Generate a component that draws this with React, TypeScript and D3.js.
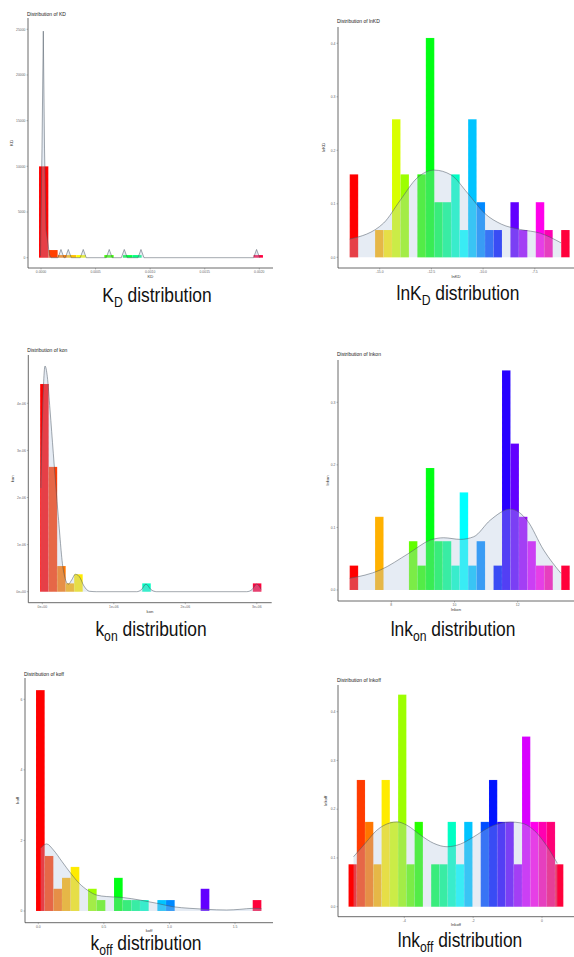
import React from "react";
import * as d3 from "d3";

// ---------- values ----------

// K_D
const kdBinStart = -0.0000183;
const kdBinWidth = 0.0000855;
const kdBins = [10000, 840, 290, 290, 290, 0, 0, 290, 0, 290, 290, 0, 0, 0, 0, 0, 0, 0, 0, 0, 0, 0, 0, 290];
const kdDensX = [
  -0.0000046, 0.0000092, 0.0000211, 0.0000321, 0.0000458, 0.0000641, 0.0000778, 0.0000916,
  0.0001555, 0.000183, 0.0002105, 0.0002225, 0.00025, 0.0002775,
  0.0003595, 0.000387, 0.0004145, 0.0005975, 0.000625, 0.0006525,
  0.0007355, 0.000763, 0.0007905, 0.0008885, 0.000916, 0.0009435,
  0.0019475, 0.001975, 0.002003,
];
const kdDensY = [
  200, 12000, 24800, 12000, 3000, 1500, 300, 0,
  0, 900, 0, 0, 900, 0,
  0, 900, 0, 0, 900, 0,
  0, 900, 0, 0, 900, 0,
  0, 900, 0,
];
const kdXTicks = [0, 0.0005, 0.001, 0.0015, 0.002];
const kdXLabels = ["0.0000", "0.0005", "0.0010", "0.0015", "0.0020"];
const kdYTicks = [0, 5000, 10000, 15000, 20000, 25000];
const kdYLabels = ["0", "5000", "10000", "15000", "20000", "25000"];

// ln K_D
const lnkdBinStart = -16.45;
const lnkdBinWidth = 0.409;
const lnkdBins = [
  0.155, 0, 0, 0.051, 0.051, 0.258, 0.155, 0, 0.155, 0.41, 0.103, 0.103, 0.155,
  0.051, 0.258, 0.103, 0.051, 0.051, 0, 0.103, 0.051, 0, 0.103, 0.051, 0, 0.051,
];
const lnkdDensX = [-16.45, -14.81, -14.0, -13.2, -12.36, -11.55, -10.75, -9.92, -9.12, -8.2, -7.23, -6.23];
const lnkdDensY = [0.034, 0.064, 0.107, 0.148, 0.163, 0.154, 0.12, 0.082, 0.062, 0.052, 0.045, 0.027];
const lnkdXTicks = [-15, -12.5, -10, -7.5];
const lnkdXLabels = ["-15.0", "-12.5", "-10.0", "-7.5"];
const lnkdYTicks = [0, 0.1, 0.2, 0.3, 0.4];
const lnkdYLabels = ["0.0", "0.1", "0.2", "0.3", "0.4"];

// k_on (x in units of 1e6, y in units of 1e-6)
const konBinStart = -0.03;
const konBinWidth = 0.119;
const konBins = [4.41, 2.65, 0.545, 0.177, 0.37, 0, 0, 0, 0, 0, 0, 0, 0.177, 0, 0, 0, 0, 0, 0, 0, 0, 0, 0, 0, 0, 0.177];
const konDensX = [
  -0.02, 0.005, 0.038, 0.07, 0.108, 0.154, 0.224, 0.294, 0.364, 0.411, 0.462, 0.518, 0.583, 0.658, 0.76,
  1.32, 1.39, 1.45, 1.516, 1.6, 2.858, 2.937, 2.998, 3.059,
];
const konDensY = [
  2.2, 3.86, 4.79, 4.57, 3.86, 2.94, 1.59, 0.46, 0.16, 0.25, 0.37, 0.32, 0.12, 0.01, 0,
  0, 0.05, 0.16, 0.05, 0, 0, 0.05, 0.16, 0.05,
];
const konXTicks = [0, 1, 2, 3];
const konXLabels = ["0e+00", "1e+06", "2e+06", "3e+06"];
const konYTicks = [0, 1, 2, 3, 4];
const konYLabels = ["0e+00", "1e-06", "2e-06", "3e-06", "4e-06"];

// ln k_on
const lnkonBinStart = 6.683;
const lnkonBinWidth = 0.2678;
const lnkonBins = [
  0.039, 0, 0, 0.117, 0, 0, 0, 0.078, 0.039, 0.195, 0.078, 0.078, 0.039,
  0.156, 0.039, 0.078, 0, 0.039, 0.351, 0.234, 0.117, 0.078, 0.039, 0.039, 0, 0.039,
];
const lnkonDensX = [6.683, 7.653, 8.55, 9.235, 9.657, 10.184, 10.607, 11.134, 11.767, 12.294, 12.822, 13.37];
const lnkonDensY = [0.0186, 0.032, 0.0585, 0.0798, 0.0835, 0.0809, 0.0851, 0.1117, 0.1293, 0.1117, 0.0638, 0.0266];
const lnkonXTicks = [8, 10, 12];
const lnkonXLabels = ["8", "10", "12"];
const lnkonYTicks = [0, 0.1, 0.2, 0.3];
const lnkonYLabels = ["0.0", "0.1", "0.2", "0.3"];

// k_off
const koffBinStart = -0.0175;
const koffBinWidth = 0.0661;
const koffBins = [
  6.26, 1.56, 0.63, 0.94, 1.25, 0, 0.63, 0.31, 0, 0.94, 0.31, 0.31, 0.31,
  0, 0.31, 0.31, 0, 0, 0, 0.63, 0, 0, 0, 0, 0, 0.31,
];
const koffDensX = [
  0.018, 0.064, 0.115, 0.181, 0.247, 0.313, 0.379, 0.445, 0.521, 0.648, 0.775, 0.902, 1.029,
  1.156, 1.283, 1.436, 1.537, 1.639, 1.702,
];
const koffDensY = [
  1.78, 1.9, 1.73, 1.4, 1.07, 0.78, 0.58, 0.45, 0.41, 0.38, 0.31, 0.22, 0.12,
  0.076, 0.047, 0.028, 0.047, 0.076, 0.066,
];
const koffXTicks = [0, 0.5, 1, 1.5];
const koffXLabels = ["0.0", "0.5", "1.0", "1.5"];
const koffYTicks = [0, 2, 4, 6];
const koffYLabels = ["0", "2", "4", "6"];

// ln k_off
const lnkoffBinStart = -5.62;
const lnkoffBinWidth = 0.24;
const lnkoffBins = [
  0.087, 0.26, 0.174, 0.087, 0.26, 0.174, 0.435, 0.087, 0.174, 0, 0.087, 0.087, 0.174,
  0.087, 0.174, 0, 0.174, 0.26, 0.174, 0.174, 0.087, 0.349, 0.174, 0.174, 0.174, 0.087,
];
const lnkoffDensX = [
  -5.474, -5.134, -4.795, -4.407, -4.213, -3.921, -3.533, -3.145, -2.757, -2.369, -1.98,
  -1.592, -1.204, -0.913, -0.622, -0.234, 0.154, 0.445,
];
const lnkoffDensY = [
  0.1025, 0.13, 0.157, 0.172, 0.174, 0.167, 0.147, 0.13, 0.123, 0.1285, 0.1435,
  0.1606, 0.171, 0.1736, 0.172, 0.157, 0.123, 0.089,
];
const lnkoffXTicks = [-4, -2, 0];
const lnkoffXLabels = ["-4", "-2", "0"];
const lnkoffYTicks = [0, 0.1, 0.2, 0.3, 0.4];
const lnkoffYLabels = ["0.0", "0.1", "0.2", "0.3", "0.4"];

// ---------- panel layout ----------

const panels = [
  {
    name: "KD", pre: "", main: "K", sub: "D",
    binStart: kdBinStart, binWidth: kdBinWidth, bins: kdBins, densX: kdDensX, densY: kdDensY,
    xTicks: kdXTicks, xLabels: kdXLabels, yTicks: kdYTicks, yLabels: kdYLabels,
    xDomain: [0, 0.002], xRange: [41, 259.3], yDomain: [0, 25000], yRange: [257.7, 29.3],
    axisX: 28, axisTop: 18, axisY: 268, axisRight: 273, titleY: 16,
    xLabY: 278, yLabX: 13, capX: 157, capY: 302, smooth: false,
  },
  {
    name: "lnKD", pre: "ln", main: "K", sub: "D",
    binStart: lnkdBinStart, binWidth: lnkdBinWidth, bins: lnkdBins, densX: lnkdDensX, densY: lnkdDensY,
    xTicks: lnkdXTicks, xLabels: lnkdXLabels, yTicks: lnkdYTicks, yLabels: lnkdYLabels,
    xDomain: [-15, -7.5], xRange: [379.7, 534.8], yDomain: [0, 0.4], yRange: [257.3, 43.3],
    axisX: 338, axisTop: 27, axisY: 268, axisRight: 574, titleY: 23,
    xLabY: 278, yLabX: 325, capX: 458, capY: 300, smooth: true,
  },
  {
    name: "kon", pre: "", main: "k", sub: "on",
    binStart: konBinStart, binWidth: konBinWidth, bins: konBins, densX: konDensX, densY: konDensY,
    xTicks: konXTicks, xLabels: konXLabels, yTicks: konYTicks, yLabels: konYLabels,
    xDomain: [0, 3], xRange: [42.3, 256.8], yDomain: [0, 4], yRange: [591.7, 403.3],
    axisX: 28.3, axisTop: 355, axisY: 602.7, axisRight: 271.7, titleY: 352,
    xLabY: 613, yLabX: 13.5, capX: 151, capY: 636, smooth: true,
  },
  {
    name: "lnkon", pre: "ln", main: "k", sub: "on",
    binStart: lnkonBinStart, binWidth: lnkonBinWidth, bins: lnkonBins, densX: lnkonDensX, densY: lnkonDensY,
    xTicks: lnkonXTicks, xLabels: lnkonXLabels, yTicks: lnkonYTicks, yLabels: lnkonYLabels,
    xDomain: [8, 12], xRange: [391.3, 517.7], yDomain: [0, 0.3], yRange: [590, 402.3],
    axisX: 338, axisTop: 360, axisY: 601, axisRight: 574, titleY: 356,
    xLabY: 611, yLabX: 329, capX: 453, capY: 636, smooth: true,
  },
  {
    name: "koff", pre: "", main: "k", sub: "off",
    binStart: koffBinStart, binWidth: koffBinWidth, bins: koffBins, densX: koffDensX, densY: koffDensY,
    xTicks: koffXTicks, xLabels: koffXLabels, yTicks: koffYTicks, yLabels: koffYLabels,
    xDomain: [0, 1.5], xRange: [38.3, 235], yDomain: [0, 6], yRange: [911, 699.3],
    axisX: 25, axisTop: 678, axisY: 922.7, axisRight: 273, titleY: 676,
    xLabY: 932, yLabX: 18.5, capX: 146, capY: 950, smooth: true,
  },
  {
    name: "lnkoff", pre: "ln", main: "k", sub: "off",
    binStart: lnkoffBinStart, binWidth: lnkoffBinWidth, bins: lnkoffBins, densX: lnkoffDensX, densY: lnkoffDensY,
    xTicks: lnkoffXTicks, xLabels: lnkoffXLabels, yTicks: lnkoffYTicks, yLabels: lnkoffYLabels,
    xDomain: [-4, 0], xRange: [404.3, 542], yDomain: [0, 0.4], yRange: [906.7, 711.7],
    axisX: 338, axisTop: 685, axisY: 916.7, axisRight: 574, titleY: 682,
    xLabY: 925.5, yLabX: 326.5, capX: 460, capY: 947, smooth: true,
  },
];

const FONT = "'Liberation Sans', Arial, Helvetica, sans-serif";

function Panel({ p }: { p: any }) {
  const x = d3.scaleLinear().domain(p.xDomain).range(p.xRange);
  const y = d3.scaleLinear().domain(p.yDomain).range(p.yRange);
  const n = p.bins.length;
  const pts: [number, number][] = p.densX.map((v: number, i: number) => [v, p.densY[i]]);
  const curve = p.smooth ? d3.curveMonotoneX : d3.curveLinear;
  const areaGen = d3.area<[number, number]>()
    .x(d => x(d[0])).y0(y(0)).y1(d => y(d[1])).curve(curve);
  const lineGen = d3.line<[number, number]>()
    .x(d => x(d[0])).y(d => y(d[1])).curve(curve);
  const plotMidY = (p.axisTop + p.axisY) / 2;
  const xMid = (p.axisX + p.axisRight) / 2;

  return (
    <g>
      <text x={p.axisX - 1} y={p.titleY} fontSize={5} fill="#222" fontFamily={FONT}>
        {`Distribution of ${p.name}`}
      </text>
      {p.bins.map((v: number, i: number) => {
        if (v <= 0) return null;
        const x0 = p.binStart + i * p.binWidth;
        const px = x(x0);
        const w = x(x0 + p.binWidth) - px;
        return (
          <rect key={i} x={px} y={y(v)} width={w} height={y(0) - y(v)}
            fill={d3.hsl((i / n) * 360, 1, 0.5).toString()}
            stroke="#ffffff" strokeOpacity={0.45} strokeWidth={0.3} strokeDasharray="0.6,0.6" />
        );
      })}
      <path d={areaGen(pts) || ""} fill="#b0c4de" fillOpacity={0.32} />
      <path d={lineGen(pts) || ""} fill="none" stroke="#4a5560" strokeOpacity={0.85} strokeWidth={0.6} />
      <line x1={p.xRange[0] - 3} x2={p.axisRight} y1={y(0)} y2={y(0)} stroke="#555" strokeWidth={0.5} opacity={0} />
      {/* axes */}
      <line x1={p.axisX} x2={p.axisX} y1={p.axisTop} y2={p.axisY} stroke="#444" strokeWidth={0.8} />
      <line x1={p.axisX} x2={p.axisRight} y1={p.axisY} y2={p.axisY} stroke="#444" strokeWidth={0.8} />
      {p.yTicks.map((t: number, i: number) => (
        <g key={"y" + i}>
          <line x1={p.axisX - 1.5} x2={p.axisX} y1={y(t)} y2={y(t)} stroke="#555" strokeWidth={0.4} />
          <text x={p.axisX - 2.5} y={y(t) + 1.2} fontSize={3.4} textAnchor="end" fill="#666" fontFamily={FONT}>
            {p.yLabels[i]}
          </text>
        </g>
      ))}
      {p.xTicks.map((t: number, i: number) => (
        <g key={"x" + i}>
          <line x1={x(t)} x2={x(t)} y1={p.axisY} y2={p.axisY + 1.5} stroke="#555" strokeWidth={0.4} />
          <text x={x(t)} y={p.axisY + 5} fontSize={3.4} textAnchor="middle" fill="#666" fontFamily={FONT}>
            {p.xLabels[i]}
          </text>
        </g>
      ))}
      <text x={xMid} y={p.xLabY} fontSize={4.2} textAnchor="middle" fill="#333" fontFamily={FONT}>
        {p.name}
      </text>
      <text transform={`translate(${p.yLabX},${plotMidY}) rotate(-90)`} fontSize={4.2}
        textAnchor="middle" fill="#333" fontFamily={FONT}>
        {p.name}
      </text>
      <g transform={`translate(${p.capX},${p.capY}) scale(0.87,1)`}>
        <text x={0} y={0} fontSize={20} textAnchor="middle" fill="#111" fontFamily={FONT}>
          <tspan>{p.pre + p.main}</tspan>
          <tspan dy={5} fontSize={14}>{p.sub}</tspan>
          <tspan dy={-5}>{" distribution"}</tspan>
        </text>
      </g>
    </g>
  );
}

export default function App() {
  return (
    <svg width={574} height={957} style={{ position: "absolute", left: 0, top: 0, background: "#fff" }}>
      <rect width={574} height={957} fill="#fff" />
      {panels.map(p => <Panel key={p.name} p={p} />)}
    </svg>
  );
}
